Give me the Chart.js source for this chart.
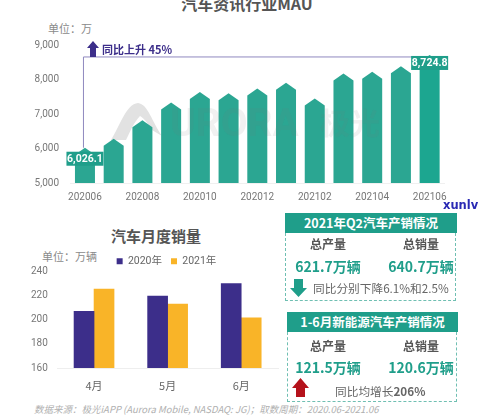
<!DOCTYPE html>
<html>
<head>
<meta charset="utf-8">
<script src="https://cdn.jsdelivr.net/npm/chart.js@4"></script>
<style>
html, body { margin: 0; padding: 0; background: #fff; }
body { width: 482px; height: 415px; position: relative; overflow: hidden; font-family: "Noto Sans CJK SC", Roboto, sans-serif; }
.abs { position: absolute; white-space: nowrap; line-height: 1; }
.center { transform: translateX(-50%); }
canvas { position: absolute; }
.title { font-size: 16px; font-weight: 700; color: #555; }
.unit { font-size: 11px; color: #8a8a8a; }
.head { background: #1f9e8a; color: #fff; font-weight: 700; font-size: 12.5px; text-align: center; height: 20px; line-height: 20px; }
.box { border: 1px dashed #6fbfb2; border-top: none; box-sizing: border-box; }
.sub { font-size: 12px; font-weight: 700; color: #555; }
.num { font-size: 14px; font-weight: 700; color: #1f9e8a; }
.note { font-size: 11.7px; color: #666; }
.mark { font-weight: 700; color: #777; opacity: .1; }
</style>
</head>
<body>
<div class="abs center title" style="left:247px;top:-5px">汽车资讯行业MAU</div>
<div class="abs unit" style="left:48px;top:23px">单位：万</div>

<!-- watermark logo sits behind the bars -->
<svg class="abs" style="left:110px;top:100px" width="54" height="42"><path d="M1 40 C10 26 16 4 28 3 C38 4 42 22 52 36 L42 30 C38 24 34 18 30 16 C24 22 20 32 16 40 Z" fill="#e2e2e2"/></svg>
<canvas id="mau-chart" width="460" height="175" style="left:0;top:30px"></canvas>
<div class="abs mark" style="left:170px;top:104px;font-size:39px;font-family:Roboto">URORA</div>
<div class="abs mark" style="left:320px;top:106px;font-size:30px">极光</div>

<svg class="abs" style="left:87px;top:41px" width="12" height="16"><path d="M6 0 L12 7 L9 7 L9 16 L3 16 L3 7 L0 7 Z" fill="#3c2e8a"/></svg>
<div class="abs" style="left:102px;top:44px;font-size:11px;font-weight:700;color:#3c2e8a">同比上升 45%</div>
<div class="abs" style="left:443px;top:200px;font-size:11.5px;font-weight:700;color:#2a2ab4;font-family:'DejaVu Sans'">xunlv</div>

<div class="abs center title" style="left:156px;top:228px;font-size:15px">汽车月度销量</div>
<div class="abs unit" style="left:42px;top:251px">单位：万辆</div>
<canvas id="sales-chart" width="330" height="151" style="left:0;top:247px"></canvas>

<div class="abs head" style="left:285px;top:213px;width:172px">2021年Q2汽车产销情况</div>
<div class="abs box" style="left:285px;top:233px;width:171px;height:68px"></div>
<div class="abs center sub" style="left:328px;top:238px">总产量</div>
<div class="abs center sub" style="left:421px;top:238px">总销量</div>
<div class="abs center num" style="left:328px;top:259px">621.7万辆</div>
<div class="abs center num" style="left:421px;top:259px">640.7万辆</div>
<svg class="abs" style="left:290px;top:279px" width="17" height="18"><path d="M4 0 L13 0 L13 9 L17 9 L8.5 18 L0 9 L4 9 Z" fill="#1f9e8a"/></svg>
<div class="abs note" style="left:313px;top:282px">同比分别下降6.1%和2.5%</div>

<div class="abs head" style="left:287px;top:312px;width:171px">1-6月新能源汽车产销情况</div>
<div class="abs box" style="left:287px;top:332px;width:170px;height:70px"></div>
<div class="abs center sub" style="left:328px;top:340px">总产量</div>
<div class="abs center sub" style="left:421px;top:340px">总销量</div>
<div class="abs center num" style="left:328px;top:360px">121.5万辆</div>
<div class="abs center num" style="left:421px;top:360px">120.6万辆</div>
<svg class="abs" style="left:292px;top:378px" width="17" height="19"><path d="M8.5 0 L17 10 L13 10 L13 19 L4 19 L4 10 L0 10 Z" fill="#b5121b"/></svg>
<div class="abs note" style="left:335px;top:385px">同比均增长<b>206%</b></div>

<div class="abs" style="left:34px;top:405px;font-size:9.5px;font-style:italic;color:#b0b0b0">数据来源：极光iAPP (Aurora Mobile, NASDAQ: JG)；取数周期：2020.06-2021.06</div>

<script>
// MAU chart
const months = ['202006','202007','202008','202009','202010','202011','202012','202101','202102','202103','202104','202105','202106'];
const mauValues = [6026.1,6290,6825,7340,7650,7610,7750,7913,7456,8184,8233,8398,8724.8];
const mauTicks = [5000,6000,7000,8000,9000];

// Sales chart
const salesMonths = ['4月','5月','6月'];
const sales2020 = [206.7,219.3,229.7];
const sales2021 = [225,212.7,201.3];

const tickColor = '#777';
const tickFont = {family: 'Roboto', size: 10};

function fixedSize(size) {
    return function(scale) {
        if (scale.isHorizontal()) scale.height = size;
        else scale.width = size;
    };
}

// draws the arrow shaped bars, the purple line and the two value labels
const mauMarks = {
    id: 'mauMarks',
    afterDatasetsDraw(chart) {
        const c = chart.ctx;
        const bars = chart.getDatasetMeta(0).data;
        const last = bars.length - 1;

        bars.forEach(function(bar, i) {
            const half = 10;
            c.fillStyle = i === last ? '#1ca690' : '#2ba692';
            c.beginPath();
            c.moveTo(bar.x - half, bar.base);
            c.lineTo(bar.x - half, bar.y + 7);
            c.lineTo(bar.x, bar.y);
            c.lineTo(bar.x + half, bar.y + 7);
            c.lineTo(bar.x + half, bar.base);
            c.closePath();
            c.fill();
        });

        c.strokeStyle = '#8f88bf';
        c.lineWidth = 1;
        c.beginPath();
        c.moveTo(bars[0].x - 1.5, bars[0].y);
        c.lineTo(bars[0].x - 1.5, bars[last].y + 2);
        c.lineTo(bars[last].x, bars[last].y + 2);
        c.stroke();

        [0, last].forEach(function(i) {
            const bar = bars[i];
            const top = i === 0 ? bar.y + 4 : bar.y + 1;
            c.fillStyle = '#1f9e8a';
            c.fillRect(bar.x - 18.5, top, 37, 14);
            c.fillStyle = '#fff';
            c.font = 'bold 10.5px Roboto';
            c.textAlign = 'center';
            c.textBaseline = 'middle';
            c.fillText(mauValues[i].toLocaleString('en-US', {minimumFractionDigits: 1}), bar.x, top + 7.5);
        });
    }
};

// legend stays short so the plot starts right under it, and centres on the whole canvas
const legendFix = {
    id: 'legendFix',
    beforeLayout(chart) {
        const fit = chart.legend.fit;
        chart.legend.fit = function() {
            fit.call(this);
            this.height = 24;
        };
    },
    afterLayout(chart) {
        chart.legend.right = chart.width + 3;
    }
};

new Chart(document.getElementById('mau-chart'), {
    type: 'bar',
    data: {
        labels: months,
        datasets: [{data: mauValues, base: mauTicks[0], backgroundColor: 'transparent', barThickness: 20}]
    },
    options: {
        responsive: false,
        animation: false,
        layout: {padding: {top: 15.5, right: 16}},
        plugins: {legend: {display: false}, tooltip: {enabled: false}},
        scales: {
            x: {
                afterFit: fixedSize(22),
                grid: {display: false},
                border: {color: '#f0f0f0'},
                ticks: {
                    autoSkip: false, maxRotation: 0, color: tickColor, font: tickFont, padding: 0,
                    callback: function(v, i) { return i % 2 === 0 ? months[i] : ''; }
                }
            },
            y: {
                min: 5000, max: 9000,
                afterFit: fixedSize(70.6),
                afterBuildTicks: function(scale) { scale.ticks = mauTicks.map(function(v) { return {value: v}; }); },
                grid: {display: false},
                border: {display: false},
                ticks: {color: tickColor, font: tickFont, padding: 3.6}
            }
        }
    },
    plugins: [mauMarks]
});

new Chart(document.getElementById('sales-chart'), {
    type: 'bar',
    data: {
        labels: salesMonths,
        datasets: [
            {label: '2020年', data: sales2020, backgroundColor: '#3c2e8a', barThickness: 20},
            {label: '2021年', data: sales2021, backgroundColor: '#f9b428', barThickness: 20}
        ]
    },
    options: {
        responsive: false,
        animation: false,
        layout: {padding: {right: 52}},
        plugins: {
            tooltip: {enabled: false},
            legend: {
                position: 'top',
                labels: {boxWidth: 6, boxHeight: 6, color: '#666', font: {family: 'Roboto, "Noto Sans CJK SC"', size: 10.5}, padding: 9}
            }
        },
        scales: {
            x: {
                afterFit: fixedSize(30),
                grid: {display: false},
                border: {color: '#eee'},
                ticks: {color: '#666', font: {family: '"Noto Sans CJK SC"', size: 11}, padding: 3}
            },
            y: {
                min: 160, max: 240,
                afterFit: fixedSize(57.25),
                grid: {display: false},
                border: {display: false},
                ticks: {stepSize: 20, color: tickColor, font: tickFont, padding: 1.5}
            }
        }
    },
    plugins: [legendFix]
});
</script>
</body>
</html>
